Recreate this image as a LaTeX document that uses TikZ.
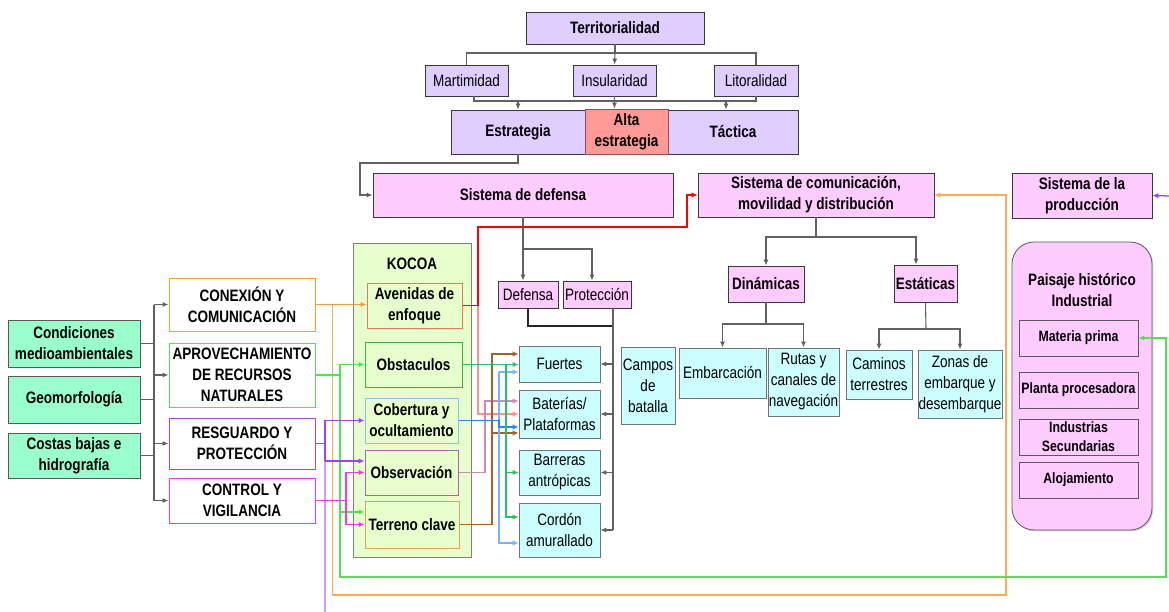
\documentclass[tikz,border=0pt]{standalone}
\usepackage{fontspec}
\setmainfont{Liberation Sans}[FakeStretch=0.82]
\usetikzlibrary{arrows.meta,calc,shadows}
\definecolor{lav}{HTML}{DFCEFF}
\definecolor{altar}{HTML}{FF9A96}
\definecolor{pinkb}{HTML}{FFCCFF}
\definecolor{cyanb}{HTML}{CCFFFF}
\definecolor{mint}{HTML}{99FFCC}
\definecolor{kgreen}{HTML}{E6FFCC}
\definecolor{cOr}{HTML}{FF9933}
\definecolor{cOrL}{HTML}{FFAA55}
\definecolor{cGr}{HTML}{4EE64E}
\definecolor{cPu}{HTML}{9944FF}
\definecolor{cPuL}{HTML}{CC9CFF}
\definecolor{cMa}{HTML}{FF33EE}
\definecolor{cRL}{HTML}{FF8F8F}
\definecolor{cPk}{HTML}{C88CB8}
\definecolor{cBr}{HTML}{A8602A}
\definecolor{cBl}{HTML}{1E88FF}
\definecolor{cBlL}{HTML}{7AB4FF}
\definecolor{cTe}{HTML}{22C460}
\definecolor{bAve}{HTML}{EE7755}
\definecolor{bObs}{HTML}{44AA44}
\definecolor{bCob}{HTML}{88C4EE}
\definecolor{bObv}{HTML}{A866A8}
\definecolor{bTer}{HTML}{D8A858}
\newcommand\fM{\fontsize{16.5}{21}\selectfont}
\newcommand\fS{\fontsize{15}{19}\selectfont}
\newcommand\mybox[7]{\node[#6,minimum width={#4-#2},minimum height={#5-#3}] (#1) at ({(#2+#4)/2},{(#3+#5)/2}) {#7};}
\tikzset{
  base/.style={draw=black!78, line width=0.8pt, align=center, inner sep=0.5pt, font=\fM\bfseries,
    drop shadow={shadow xshift=1.3pt,shadow yshift=-1.3pt,fill=black!35}},
  lavb/.style={base, fill=lav},
  altab/.style={base, fill=altar, draw=red!45!black!70},
  pinkbx/.style={base, fill=pinkb},
  cyanbx/.style={base, fill=cyanb, draw=black!55, font=\fM},
  mintb/.style={base, fill=mint, draw=black!65},
  kbox/.style={base, fill=kgreen, draw=black!50},
  kin/.style={base, fill=kgreen, line width=1pt, drop shadow={opacity=0}},
  wbox/.style={base, fill=white, line width=1pt, drop shadow={opacity=0}},
  inbox/.style={base, fill=pinkb, font=\fS\bfseries, draw=black!65, drop shadow={opacity=0}},
  paib/.style={base, fill=pinkb, rounded corners=22pt, draw=black!65},
  ln/.style={draw=black!62, line width=1.1pt},
  arr/.style={ln, -{Latex[length=6pt,width=5pt]}},
  cl/.style={line width=1.3pt},
  ca/.style={line width=1.3pt, -{Latex[length=6pt,width=5.5pt]}}
}
\begin{document}
\begin{tikzpicture}[x=1pt,y=-1pt]
\fill[white] (0,0) rectangle (1169,612);
\useasboundingbox (0,0) rectangle (1169,612);
% top
\mybox{terr}{526}{12}{704}{44}{lavb}{Territorialidad}
\mybox{mart}{425}{65}{508}{96}{lavb,font=\fM}{Martimidad}
\mybox{ins}{573}{65}{656}{96}{lavb,font=\fM}{Insularidad}
\mybox{lit}{714}{65}{798}{96}{lavb,font=\fM}{Litoralidad}
\mybox{estr}{451}{110}{585}{154}{lavb}{Estrategia}
\mybox{tact}{668}{110}{798}{154}{lavb}{Táctica}
\mybox{alta}{585}{109}{668}{154}{altab}{Alta\\estrategia}
% systems
\mybox{sdef}{373}{173}{673}{217}{pinkbx}{Sistema de defensa}
\mybox{scom}{698}{173}{934}{217}{pinkbx}{Sistema de comunicación,\\movilidad y distribución}
\mybox{sprod}{1012}{173}{1152}{218}{pinkbx}{Sistema de la\\producción}
% defense branch
\mybox{def}{498}{281}{558}{308}{pinkbx,font=\fM}{Defensa}
\mybox{prot}{563}{281}{631}{308}{pinkbx,font=\fM}{Protección}
\mybox{fue}{519}{346}{600}{382}{cyanbx}{Fuertes}
\mybox{bat}{519}{390}{600}{438}{cyanbx}{Baterías/\\Plataformas}
\mybox{bar}{519}{450}{600}{495}{cyanbx}{Barreras\\antrópicas}
\mybox{cord}{519}{503}{600}{557}{cyanbx}{Cordón\\amurallado}
\mybox{cpb}{621}{347}{675}{424}{cyanbx}{Campos\\de\\batalla}
% communication branch
\mybox{din}{728}{266}{804}{302}{pinkbx}{Dinámicas}
\mybox{est}{894}{265}{957}{302}{pinkbx}{Estáticas}
\mybox{emb}{679}{348}{766}{398}{cyanbx}{Embarcación}
\mybox{rut}{768}{348}{839}{416}{cyanbx}{Rutas y\\canales de\\navegación}
\mybox{cam}{846}{350}{912}{399}{cyanbx}{Caminos\\terrestres}
\mybox{zon}{918}{350}{1002}{418}{cyanbx}{Zonas de\\embarque y\\desembarque}
% production
\mybox{pai}{1012}{242}{1152}{530}{paib}{}
\node[font=\fM\bfseries, align=center] (ptit) at (1082,290) {Paisaje histórico\\Industrial};
\mybox{mat}{1019}{320}{1138}{356}{inbox}{Materia prima}
\mybox{pla}{1019}{372}{1138}{408}{inbox}{Planta procesadora}
\mybox{ind}{1019}{419}{1138}{455}{inbox}{Industrias\\Secundarias}
\mybox{alo}{1019}{462}{1138}{498}{inbox}{Alojamiento}
% KOCOA
\mybox{kocoa}{353}{243}{471}{557}{kbox}{}
\node[font=\fM\bfseries] (klbl) at (412,264) {KOCOA};
\mybox{ave}{367}{283}{462}{328}{kin,draw=bAve}{Avenidas de\\enfoque}
\mybox{obst}{365}{342}{462}{387}{kin,draw=bObs}{Obstaculos}
\mybox{cob}{365}{398}{458}{443}{kin,draw=bCob}{Cobertura y\\ocultamiento}
\mybox{obsv}{365}{450}{458}{495}{kin,draw=bObv}{Observación}
\mybox{terrc}{365}{501}{459}{548}{kin,draw=bTer}{Terreno clave}
% left
\mybox{cond}{8}{320}{140}{367}{mintb}{Condiciones\\medioambientales}
\mybox{geo}{8}{376}{140}{423}{mintb}{Geomorfología}
\mybox{cos}{8}{433}{140}{478}{mintb}{Costas bajas e\\hidrografía}
\mybox{con}{169}{278}{315}{331}{wbox,draw=cOr}{CONEXIÓN Y\\COMUNICACIÓN}
\mybox{apr}{169}{343}{315}{407}{wbox,draw=cGr}{APROVECHAMIENTO\\DE RECURSOS\\NATURALES}
\mybox{resg}{169}{418}{315}{469}{wbox,draw=cPu}{RESGUARDO Y\\PROTECCIÓN}
\mybox{ctrl}{169}{478}{315}{523}{wbox,draw=cMa}{CONTROL Y\\VIGILANCIA}

% ---- black connectors ----
\coordinate (j1) at (615,53);
\draw[ln] (terr.south) -- (terr.south |- j1);
\draw[ln] (mart.north) |- (j1) -| (lit.north);
\draw[arr] (j1) -- (ins.north);
\coordinate (j2) at (615,101);
\draw[ln] ($(mart.south)+(7.5,0)$) |- (j2) -| (lit.south);
\draw[arr] (ins.south) -- (ins.south |- alta.north);
\draw[arr] (estr.north |- j2) -- (estr.north);
\draw[arr] ($(tact.north |- j2)+(-7,0)$) -- ($(tact.north)+(-7,0)$);
\coordinate (c1) at (360,163);
\draw[arr] (estr.south) |- (c1) |- (sdef.west);
\coordinate (c2) at (523,249);
\draw[ln] (sdef.south) -- (c2);
\draw[arr] (c2) -- (c2 |- def.north);
\draw[arr] (c2) -| ($(prot.north)+(-5,0)$);
\coordinate (pv) at (613,326);
\draw[ln,draw=black!85] (def.south) |- (pv);
\draw[ln] ($(prot.south)+(16,0)$) -- (pv |- cord.east);
\draw[arr] (pv |- fue.east) -- (fue.east);
\draw[arr] (pv |- bat.east) -- (bat.east);
\draw[arr] (pv |- bar.east) -- (bar.east);
\draw[arr] (pv |- cord.east) -- (cord.east);
\coordinate (c3) at (816,237);
\draw[ln] (scom.south) -- (c3);
\draw[arr] (c3) -| (din.north);
\draw[arr] (c3) -| ($(est.north)+(-9.5,0)$);
\coordinate (c4) at (766,324);
\draw[ln] (din.south) -- (c4);
\draw[arr] (c4) -| (emb.north);
\draw[arr] (c4) -| (rut.north);
\coordinate (c5) at (926,329);
\draw[ln] (est.south) -- (c5);
\draw[arr] (c5) -| (cam.north);
\draw[arr] (c5) -| (zon.north);
\coordinate (lv) at (154,0);
\draw[ln] (cond.east) -- (cond.east -| lv);
\draw[ln] (geo.east) -- (geo.east -| lv);
\draw[ln] (cos.east) -- (cos.east -| lv);
\draw[ln] (lv |- con.west) -- (lv |- ctrl.west);
\draw[arr] (lv |- con.west) -- (con.west);
\draw[arr] (lv |- apr.west) -- (apr.west);
\draw[arr] (lv |- resg.west) -- (resg.west);
\draw[arr] (lv |- ctrl.west) -- (ctrl.west);

% ---- coloured connectors ----
% orange
\coordinate (oc) at (1006,595);
\draw[ca,draw=cOr] (con.east) -- (con.east -| ave.west);
\draw[ca,draw=cOrL] ($(con.east)+(17,0)$) |- (oc) |- (scom.east);
% green
\coordinate (gv) at (340,0);
\coordinate (gc) at (1166,577);
\draw[cl,draw=cGr] (apr.east) -- (gv |- apr.east);
\draw[ca,draw=cGr] (gv |- apr.east) |- (obst.west);
\draw[ca,draw=cGr] (gv |- apr.east) |- ($(terrc.west)+(0,-12.5)$);
\draw[ca,draw=cGr] (gv |- apr.east) |- (gc) |- (mat.east);
% purple
\coordinate (pu) at (325,461);
\draw[cl,draw=cPuL] (pu) -- (325,612);
\draw[cl,draw=cPu] (resg.east) -| (pu);
\draw[ca,draw=cPu] (pu) |- (cob.west);
\draw[ca,draw=cPu] (pu) -- (pu -| obsv.west);
\coordinate (pr) at (1169,196);
\draw[ca,draw=cPu] (pr) -- (sprod.east);
% magenta
\coordinate (mg) at (346,500.5);
\draw[cl,draw=cMa] (ctrl.east) -- (mg);
\draw[ca,draw=cMa] (mg) |- (obsv.west);
\draw[ca,draw=cMa] (mg) |- (terrc.west);
% red
\coordinate (rv) at (478,0);
\draw[ca,draw=cRL] (rv |- ave.east) |- (bat.west);
\draw[ca,draw=red] (ave.east) -| (478,227) -| (687,195) -- (scom.west);
% pink
\draw[ca,draw=cPk] (obsv.east) -| (485,401) -- ($(bat.west)+(0,-13)$);
% brown
\coordinate (bv) at (492,0);
\draw[ca,draw=cBr] (terrc.east) -| ($(bv |- fue.west)+(0,-10)$) -- ($(fue.west)+(0,-10)$);
\draw[ca,draw=cBr] ($(bv |- bat.west)+(0,19)$) -- ($(bat.west)+(0,19)$);
% blue
\coordinate (blv) at (499,0);
\draw[ca,draw=cBlL] ($(blv |- fue.west)+(0,8)$) -- ($(fue.west)+(0,8)$);
\draw[ca,draw=cBlL] ($(blv |- fue.west)+(0,8)$) |- ($(cord.west)+(0,13)$);
\draw[ca,draw=cBl] (cob.east) -| ($(blv |- bat.west)+(0,13)$) -- ($(bat.west)+(0,13)$);
% teal green
\coordinate (gv2) at (506,0);
\draw[ca,draw=cTe] (obst.east) -- (obst.east -| fue.west);
\draw[ca,draw=cTe] (gv2 |- obst.east) |- (bar.west);
\draw[ca,draw=cTe] (gv2 |- obst.east) |- ($(cord.west)+(0,-13)$);
\end{tikzpicture}
\end{document}
